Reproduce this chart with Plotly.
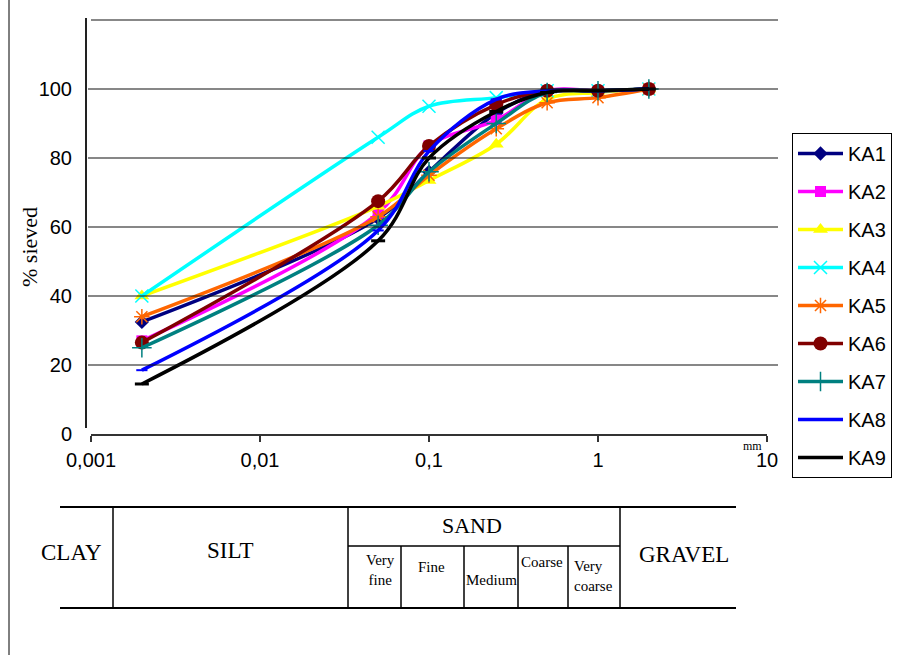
import plotly.graph_objects as go

# ---------------- data ----------------
sizes_mm = [0.002, 0.05, 0.1, 0.25, 0.5, 1, 2]
KA1 = [32.5, 62.5, 76, 93, 99.5, 99.5, 100]
KA2 = [27, 64, 83.5, 91, 99.5, 99.5, 100]
KA3 = [40, 66, 73.5, 84, 97, 99, 100]
KA4 = [40, 86, 95, 97.5, 99.5, 99.5, 100]
KA5 = [34, 63, 75, 88.5, 96, 97.5, 100]
KA6 = [26.5, 67.5, 83.5, 95.5, 99.5, 99.5, 100]
KA7 = [25, 60.5, 76, 90, 99, 99.5, 100]
KA8 = [18.5, 59, 82, 97, 99.5, 99.5, 100]
KA9 = [14.5, 56, 80, 93.5, 99, 99.5, 100]

series_names = ["KA1", "KA2", "KA3", "KA4", "KA5", "KA6", "KA7", "KA8", "KA9"]
series_values = [KA1, KA2, KA3, KA4, KA5, KA6, KA7, KA8, KA9]

x_tick_vals = [0.001, 0.01, 0.1, 1, 10]
x_tick_text = ["0,001", "0,01", "0,1", "1", "10"]
y_tick_vals = [0, 20, 40, 60, 80, 100]
grid_vals = [20, 40, 60, 80, 100]

# ---------------- styles ----------------
styles = {
    "KA1": dict(color="#000080", symbol="diamond", size=11, mline="#000080", mw=0),
    "KA2": dict(color="#FF00FF", symbol="square", size=11, mline="#FF00FF", mw=0),
    "KA3": dict(color="#FFFF00", symbol="triangle-up", size=13, mline="#FFFF00", mw=0),
    "KA4": dict(color="#00FFFF", symbol="x-thin-open", size=13, mline="#00FFFF", mw=1.5),
    "KA5": dict(color="#FF6600", symbol="asterisk-open", size=13, mline="#FF9966", mw=1.5),
    "KA6": dict(color="#800000", symbol="circle", size=14, mline="#800000", mw=0),
    "KA7": dict(color="#008080", symbol="cross-thin-open", size=14, mline="#008080", mw=1.5),
    "KA8": dict(color="#0000FF", symbol="line-ew-open", size=8, mline="#0000FF", mw=2),
    "KA9": dict(color="#000000", symbol="line-ew-open", size=10, mline="#666666", mw=3),
}

W, H = 904, 655
L, R, T, B = 91, 767, 20, 434  # plot area in pixels


def px(xp):
    return (xp - L) / (R - L)


def py(yp):
    return (B - yp) / (B - T)


fig = go.Figure()
for name, vals in zip(series_names, series_values):
    s = styles[name]
    fig.add_trace(go.Scatter(
        x=sizes_mm, y=vals, name=name, legendgroup=name,
        mode="lines+markers",
        line=dict(color=s["color"], width=3.5, shape="spline", smoothing=1),
        marker=dict(symbol=s["symbol"], size=s["size"], color=s["color"],
                    line=dict(color=s["mline"], width=s["mw"])),
    ))

shapes = []
# horizontal gridlines
for g in grid_vals:
    shapes.append(dict(type="line", xref="paper", yref="y", x0=px(88), x1=px(778), y0=g, y1=g,
                       line=dict(color="#111111", width=1.2)))
# y axis line
shapes.append(dict(type="line", xref="paper", yref="paper", x0=px(86), x1=px(86), y0=py(428), y1=py(18),
                   line=dict(color="#222222", width=2)))
# top border line
shapes.append(dict(type="line", xref="paper", yref="paper", x0=px(91), x1=px(778), y0=py(20), y1=py(20),
                   line=dict(color="#888888", width=2)))
# image frame left border
shapes.append(dict(type="line", xref="paper", yref="paper", x0=px(9), x1=px(9), y0=py(0), y1=py(655),
                   line=dict(color="#000000", width=1)))

# classification table
tbl = dict(color="#000000", width=2)
thin = dict(color="#000000", width=1.5)
shapes.append(dict(type="line", xref="paper", yref="paper", x0=px(60), x1=px(736), y0=py(507), y1=py(507), line=tbl))
shapes.append(dict(type="line", xref="paper", yref="paper", x0=px(60), x1=px(736), y0=py(608), y1=py(608), line=tbl))
for xv in [113, 348, 620]:
    shapes.append(dict(type="line", xref="paper", yref="paper", x0=px(xv), x1=px(xv), y0=py(507), y1=py(608), line=thin))
shapes.append(dict(type="line", xref="paper", yref="paper", x0=px(348), x1=px(620), y0=py(546), y1=py(546), line=thin))
for xv in [401, 464, 518, 568]:
    shapes.append(dict(type="line", xref="paper", yref="paper", x0=px(xv), x1=px(xv), y0=py(546), y1=py(608), line=thin))

serif = "Times New Roman, Liberation Serif, serif"
annotations = []


def ann(text, xp, yp, size, align="center"):
    annotations.append(dict(text=text, xref="paper", yref="paper", x=px(xp), y=py(yp),
                            xanchor="center", yanchor="middle", showarrow=False, align=align,
                            font=dict(family=serif, size=size, color="#000000")))


ann("CLAY", 71, 552, 23)
ann("SILT", 230, 550, 23)
ann("SAND", 472, 525, 22)
ann("GRAVEL", 684, 554, 23)
ann("Very<br>fine", 380, 570, 15)
ann("Fine", 431, 567, 15)
ann("Medium", 491, 580, 15)
ann("Coarse", 542, 562, 15)
ann("Very<br>coarse", 593, 576, 15, align="left")
ann("mm", 752, 446, 12)
annotations.append(dict(text="% sieved", xref="paper", yref="paper", x=px(29), y=py(247),
                        xanchor="center", yanchor="middle", showarrow=False, textangle=-90,
                        font=dict(family=serif, size=22, color="#000000")))

fig.update_layout(
    width=W, height=H,
    margin=dict(l=L, r=W - R, t=T, b=H - B, pad=0),
    paper_bgcolor="white", plot_bgcolor="white",
    font=dict(family="Arial, Liberation Sans, sans-serif", size=20, color="#000000"),
    showlegend=True,
    legend=dict(x=px(792), y=py(133), xanchor="left", yanchor="top",
                bordercolor="#000000", borderwidth=1, bgcolor="white",
                font=dict(size=20), tracegroupgap=9, itemwidth=45,
                traceorder="grouped"),
    xaxis=dict(type="log", range=[-3, 1], showgrid=False, zeroline=False,
               showline=True, linecolor="#333333", linewidth=1.5,
               ticks="outside", ticklen=6, tickcolor="#333333", tickwidth=1.5,
               tickvals=x_tick_vals, ticktext=x_tick_text, ticklabelstandoff=1),
    yaxis=dict(range=[0, 120], showgrid=False, zeroline=False, showline=False,
               tickvals=y_tick_vals, ticks="", ticklabelstandoff=18),
    shapes=shapes, annotations=annotations,
)

fig.write_html("out.html", config={"displayModeBar": False},
               post_script="document.body.style.margin='0';")
